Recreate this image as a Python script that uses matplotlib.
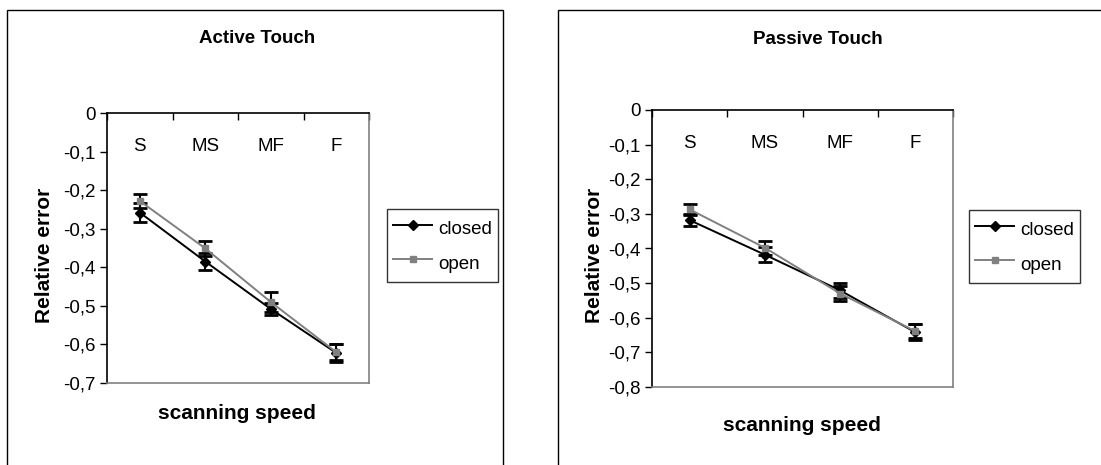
import matplotlib
matplotlib.use("Agg")
import matplotlib.pyplot as plt
from matplotlib.patches import Rectangle
from matplotlib.lines import Line2D
from matplotlib.ticker import FuncFormatter, FixedLocator

plt.rcParams['font.family'] = ['Liberation Sans', 'DejaVu Sans']

categories = ["S", "MS", "MF", "F"]
series_names = ["closed", "open"]

active_closed = [-0.258, -0.385, -0.508, -0.622]
active_closed_err = [0.025, 0.022, 0.016, 0.023]
active_open = [-0.228, -0.351, -0.490, -0.620]
active_open_err = [0.018, 0.019, 0.025, 0.021]

passive_closed = [-0.318, -0.418, -0.521, -0.642]
passive_closed_err = [0.017, 0.022, 0.022, 0.023]
passive_open = [-0.287, -0.398, -0.530, -0.639]
passive_open_err = [0.015, 0.021, 0.021, 0.020]

active_yticks = [0, -0.1, -0.2, -0.3, -0.4, -0.5, -0.6, -0.7]
passive_yticks = [0, -0.1, -0.2, -0.3, -0.4, -0.5, -0.6, -0.7, -0.8]

titles = ["Active Touch", "Passive Touch"]
ylabel = "Relative error"
xlabel = "scanning speed"

W, H = 1101, 465
fig = plt.figure(figsize=(W / 100, H / 100), dpi=100)

def fx(px):
    return px / W

def fy(py):
    return 1 - py / H

def comma_fmt(v, pos):
    if abs(v) < 1e-9:
        return "0"
    return ("%.1f" % v).replace(".", ",")

GRAY = "#808080"
STYLES = [dict(color="black", marker="D", markersize=5),
          dict(color=GRAY, marker="s", markersize=5)]

def panel(rect, closed, closed_err, opn, opn_err, yticks, leg_anchor):
    ax = fig.add_axes(rect)
    x = list(range(len(categories)))
    for vals, errs, st, name in zip([closed, opn], [closed_err, opn_err],
                                    STYLES, series_names):
        ax.errorbar(x, vals, yerr=errs, ecolor="black", lw=1.4,
                    elinewidth=1.5, capsize=5, capthick=2, zorder=3,
                    label=name, **st)
    ax.set_xlim(-0.5, len(categories) - 0.5)
    ax.set_ylim(min(yticks), max(yticks))
    ax.set_yticks(yticks)
    ax.yaxis.set_major_formatter(FuncFormatter(comma_fmt))
    ax.tick_params(axis="y", direction="out", length=5, width=1,
                   labelsize=13.5, pad=3)
    # category axis on top at y=0
    ax.xaxis.set_major_locator(FixedLocator([i - 0.5 for i in range(len(categories) + 1)]))
    ax.xaxis.set_major_formatter(plt.NullFormatter())
    ax.set_xticks(x, categories, minor=True)
    ax.tick_params(axis="x", which="major", top=True, bottom=False,
                   direction="in", length=5, width=1)
    ax.tick_params(axis="x", which="minor", top=False, bottom=False,
                   labeltop=True, labelbottom=False, length=0,
                   labelsize=13.5, pad=-30)
    ax.spines["left"].set_color("black")
    ax.spines["top"].set_color("black")
    ax.spines["bottom"].set_color(GRAY)
    ax.spines["right"].set_color(GRAY)
    for s in ax.spines.values():
        s.set_linewidth(1.2)
    handles = [Line2D([], [], lw=1.4, **st) for st in STYLES]
    leg = ax.legend(handles, series_names, loc="upper left",
                    bbox_to_anchor=leg_anchor,
                    bbox_transform=fig.transFigure, frameon=True,
                    fancybox=False, edgecolor="black", fontsize=13.5,
                    handlelength=2.1, handleheight=1.75, handletextpad=0.3,
                    borderpad=0.32, labelspacing=0.48, borderaxespad=0)
    leg.get_frame().set_linewidth(1)
    return ax

axL = panel([fx(107), fy(383), fx(369) - fx(107), fy(113) - fy(383)],
            active_closed, active_closed_err, active_open, active_open_err,
            active_yticks, (fx(387), fy(209)))
axR = panel([fx(652), fy(387), fx(953) - fx(652), fy(110) - fy(387)],
            passive_closed, passive_closed_err, passive_open, passive_open_err,
            passive_yticks, (fx(969), fy(210)))

# panel borders
fig.patches.append(Rectangle((fx(7), -0.1), fx(503) - fx(7), fy(10) + 0.1,
                             transform=fig.transFigure, fill=False,
                             edgecolor="black", lw=1))
fig.patches.append(Rectangle((fx(558), -0.1), 0.6, fy(10) + 0.1,
                             transform=fig.transFigure, fill=False,
                             edgecolor="black", lw=1))

fig.text(fx(257), fy(38), titles[0], ha="center", va="center",
         fontsize=13.5, fontweight="bold")
fig.text(fx(818), fy(40), titles[1], ha="center", va="center",
         fontsize=13.5, fontweight="bold")
fig.text(fx(44), fy(255), ylabel, ha="center", va="center", rotation=90,
         fontsize=15, fontweight="bold")
fig.text(fx(594), fy(255), ylabel, ha="center", va="center", rotation=90,
         fontsize=15, fontweight="bold")
fig.text(fx(237), fy(413), xlabel, ha="center", va="center",
         fontsize=15, fontweight="bold")
fig.text(fx(802), fy(425), xlabel, ha="center", va="center",
         fontsize=15, fontweight="bold")

fig.savefig("out.png", dpi=100)
